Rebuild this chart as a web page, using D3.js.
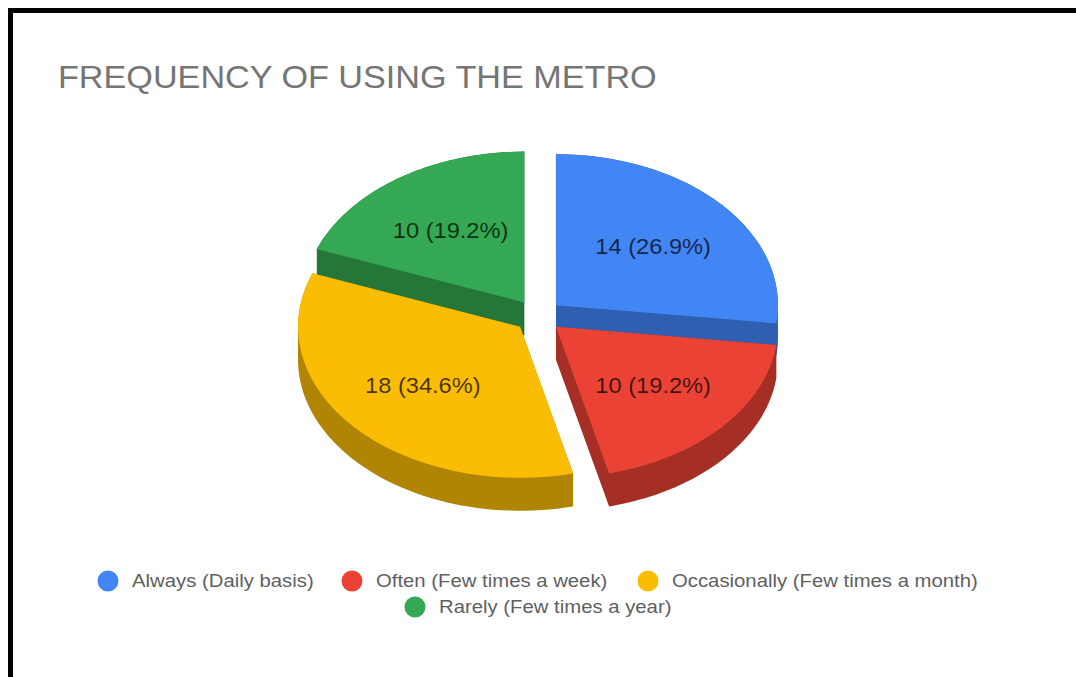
<!DOCTYPE html>
<html>
<head>
<meta charset="utf-8">
<script src="https://cdnjs.cloudflare.com/ajax/libs/d3/7.8.5/d3.min.js"></script>
<style>
  html, body { margin: 0; padding: 0; background: #fff; }
  svg { display: block; }
  text { font-family: "Liberation Sans", Arial, sans-serif; }
</style>
</head>
<body>
<svg id="chart" width="1076" height="677"></svg>
<script>
// Survey responses, in drawing order around the pie
const categories = [
  "Always (Daily basis)",
  "Often (Few times a week)",
  "Occasionally (Few times a month)",
  "Rarely (Few times a year)"
];
const counts = [14, 10, 18, 10];
const topColors = ["#4285F4", "#EA4335", "#FBBC04", "#34A853"];
const wallColors = ["#2F5FB0", "#A52F25", "#B08503", "#247639"];
const chartTitle = "FREQUENCY OF USING THE METRO";

const svg = d3.select("#chart");
const width = 1076, height = 677;

// All text is set slightly wide
const textStretch = 1.075;
const wideText = (x, y, size, fill, content) => svg.append("text")
  .attr("transform", `translate(${x},${y}) scale(${textStretch},1)`)
  .attr("font-size", size)
  .attr("fill", fill)
  .text(content);

// Page frame: heavy rule along the top and the left
svg.append("rect").attr("x", 8).attr("y", 8).attr("width", width - 8).attr("height", 5).attr("fill", "#000");
svg.append("rect").attr("x", 8).attr("y", 8).attr("width", 5).attr("height", height - 8).attr("fill", "#000");

wideText(58, 88, 31.8, "#757575", chartTitle);

// Tilted, exploded pie geometry
const cx = 538, cy = 316, rx = 222, tilt = 0.68, depth = 33, explode = 24, labelAt = 0.585;
const total = d3.sum(counts);

const pie = d3.pie().sort(null).value(d => d);
const arcs = pie(counts);
const arc = d3.arc().innerRadius(0).outerRadius(rx);

// Map a pie angle and radius to the tilted plane, relative to the slice centre
const project = (a, r) => [r * Math.sin(a), -r * tilt * Math.cos(a)];

// Back slices first so nearer ones overlap them
const drawOrder = [3, 0, 2, 1];
const pieLayer = svg.append("g");

drawOrder.forEach(i => {
  const s = arcs[i];
  const mid = (s.startAngle + s.endAngle) / 2;
  const [ox, oy] = project(mid, explode);
  const g = pieLayer.append("g").attr("transform", `translate(${cx + ox},${cy + oy})`);

  // Silhouette of the extruded slice: convex hull of its top and bottom outlines
  const outline = d3.range(0, 61).map(k => {
    const a = s.startAngle + (s.endAngle - s.startAngle) * k / 60;
    return project(a, rx);
  });
  outline.push([0, 0]);
  const hull = d3.polygonHull(outline.concat(outline.map(p => [p[0], p[1] + depth])));
  g.append("path")
    .attr("d", "M" + hull.join("L") + "Z")
    .attr("fill", wallColors[i]);

  g.append("path")
    .attr("d", arc(s))
    .attr("transform", `scale(1,${tilt})`)
    .attr("fill", topColors[i]);
});

// Value labels sit on top of every slice
arcs.forEach((s, i) => {
  const mid = (s.startAngle + s.endAngle) / 2;
  const [ox, oy] = project(mid, explode);
  const [lx, ly] = project(mid, rx * labelAt);
  wideText(cx + ox + lx, cy + oy + ly, 22, "#000",
      `${counts[i]} (${d3.format(".1f")(counts[i] / total * 100)}%)`)
    .attr("text-anchor", "middle")
    .attr("dominant-baseline", "central")
    .attr("fill-opacity", 0.72);
});

// Legend wraps onto a second, centred row
const legendRows = [[0, 1, 2], [3]];
const legendX = [[108, 352, 648], [415]];
const legendY = [581, 607];
legendRows.forEach((row, r) => {
  row.forEach((i, c) => {
    svg.append("circle")
      .attr("cx", legendX[r][c]).attr("cy", legendY[r])
      .attr("r", 10.5)
      .attr("fill", topColors[i]);
    wideText(legendX[r][c] + 24, legendY[r] - 1, 18.9, "#5f5f5f", categories[i])
      .attr("dominant-baseline", "central");
  });
});
</script>
</body>
</html>
